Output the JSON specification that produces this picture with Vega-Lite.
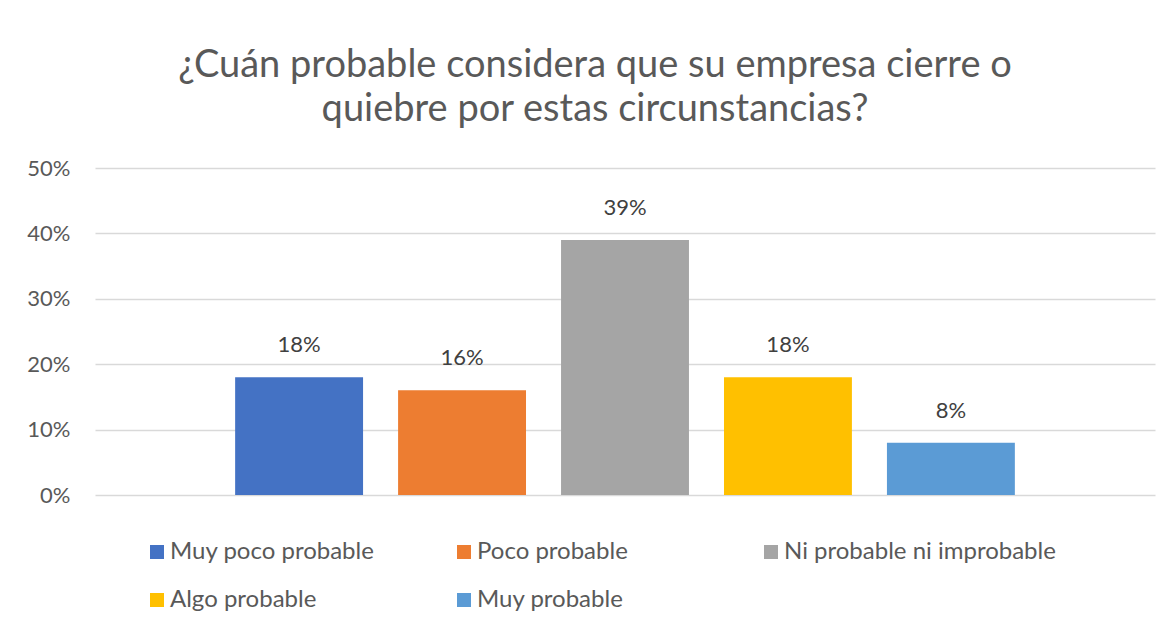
{
  "$schema": "https://vega.github.io/schema/vega-lite/v6.json",
  "autosize": "none",
  "width": 1060,
  "height": 327,
  "padding": {"left": 95, "top": 168, "right": 17, "bottom": 138},
  "background": "white",
  "config": {
    "font": "Lato",
    "view": {"stroke": null}
  },
  "title": {
    "text": ["¿Cuán probable considera que su empresa cierre o", "quiebre por estas circunstancias?"],
    "fontSize": 38,
    "font": "Lato",
    "fontWeight": "normal",
    "color": "#595959",
    "anchor": "middle",
    "dx": -30,
    "offset": 28,
    "lineHeight": 44
  },
  "data": {
    "values": [
      {"categoria": "Muy poco probable", "valor": 0.18},
      {"categoria": "Poco probable", "valor": 0.16},
      {"categoria": "Ni probable ni improbable", "valor": 0.39},
      {"categoria": "Algo probable", "valor": 0.18},
      {"categoria": "Muy probable", "valor": 0.08}
    ]
  },
  "encoding": {
    "x": {
      "field": "categoria",
      "type": "nominal",
      "sort": null,
      "scale": {"paddingInner": 0.215, "paddingOuter": 0.86},
      "axis": null
    },
    "y": {
      "field": "valor",
      "type": "quantitative",
      "scale": {"domain": [0, 0.5]},
      "axis": {
        "format": ".0%",
        "values": [0, 0.1, 0.2, 0.3, 0.4, 0.5],
        "title": null,
        "domain": false,
        "ticks": false,
        "labelPadding": 25,
        "labelFontSize": 22,
        "labelColor": "#595959",
        "labelFont": "Lato",
        "gridColor": "#D9D9D9",
        "gridWidth": 1.5
      }
    }
  },
  "layer": [
    {
      "mark": {"type": "bar"},
      "encoding": {
        "color": {
          "field": "categoria",
          "type": "nominal",
          "sort": null,
          "scale": {
            "domain": ["Muy poco probable", "Poco probable", "Ni probable ni improbable", "Algo probable", "Muy probable"],
            "range": ["#4472C4", "#ED7D31", "#A5A5A5", "#FFC000", "#5B9BD5"]
          },
          "legend": {
            "title": null,
            "orient": "none",
            "legendX": 50,
            "legendY": 372,
            "direction": "horizontal",
            "columns": 3,
            "gridAlign": "all",
            "columnPadding": 10,
            "rowPadding": 24,
            "symbolType": "square",
            "symbolSize": 196,
            "symbolStrokeWidth": 0,
            "labelFontSize": 24,
            "labelFont": "Lato",
            "labelColor": "#595959",
            "labelOffset": 1,
            "labelLimit": 400
          }
        }
      }
    },
    {
      "mark": {"type": "text", "baseline": "bottom", "dy": -20, "fontSize": 22, "font": "Lato", "color": "#404040"},
      "encoding": {
        "text": {"field": "valor", "type": "quantitative", "format": ".0%"}
      }
    }
  ]
}
